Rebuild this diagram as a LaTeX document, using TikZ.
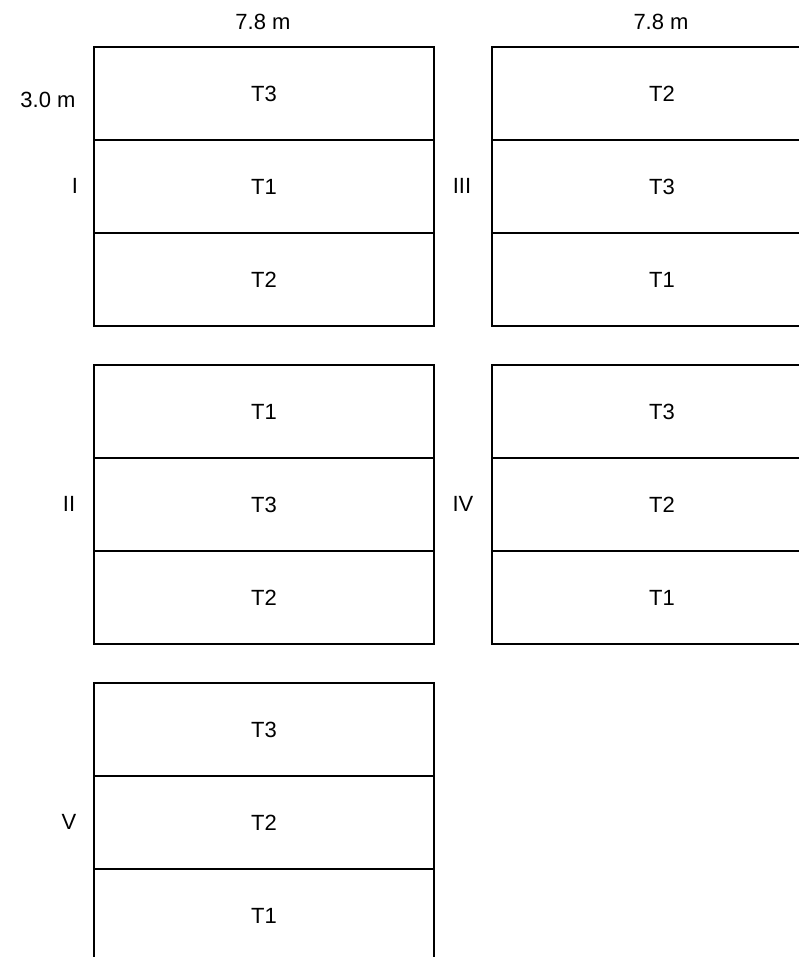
\documentclass[tikz,border=0pt]{standalone}
\usepackage{fontspec}
\setmainfont{Liberation Sans}
\begin{document}
\begin{tikzpicture}[x=1pt,y=-1pt,
  txt/.style={font=\fontsize{22}{26}\selectfont},
  plot/.style={draw,line width=2pt,minimum width=340pt,minimum height=93pt,
    inner sep=0pt,anchor=north west,txt}]
\useasboundingbox (0,0) rectangle (799,957);
\clip (0,0) rectangle (799,957);
% block I
\node[plot] (i1) at (93,46) {T3};
\node[plot] (i2) at (93,139) {T1};
\node[plot] (i3) at (93,232) {T2};
% block III
\node[plot] (iii1) at (491,46) {T2};
\node[plot] (iii2) at (491,139) {T3};
\node[plot] (iii3) at (491,232) {T1};
% block II
\node[plot] (ii1) at (93,364) {T1};
\node[plot] (ii2) at (93,457) {T3};
\node[plot] (ii3) at (93,550) {T2};
% block IV
\node[plot] (iv1) at (491,364) {T3};
\node[plot] (iv2) at (491,457) {T2};
\node[plot] (iv3) at (491,550) {T1};
% block V
\node[plot] (v1) at (93,682) {T3};
\node[plot] (v2) at (93,775) {T2};
\node[plot] (v3) at (93,868) {T1};
% labels
\node[txt] (w1) at (263,22) {7.8 m};
\node[txt] (w2) at (661,22) {7.8 m};
\node[txt,anchor=east] (h1) at (79,100) {3.0 m};
\node[txt] (lI) at (75,186) {I};
\node[txt] (lIII) at (462,186) {III};
\node[txt] (lII) at (69,504) {II};
\node[txt] (lIV) at (463,504) {IV};
\node[txt] (lV) at (69,822) {V};
\end{tikzpicture}
\end{document}
